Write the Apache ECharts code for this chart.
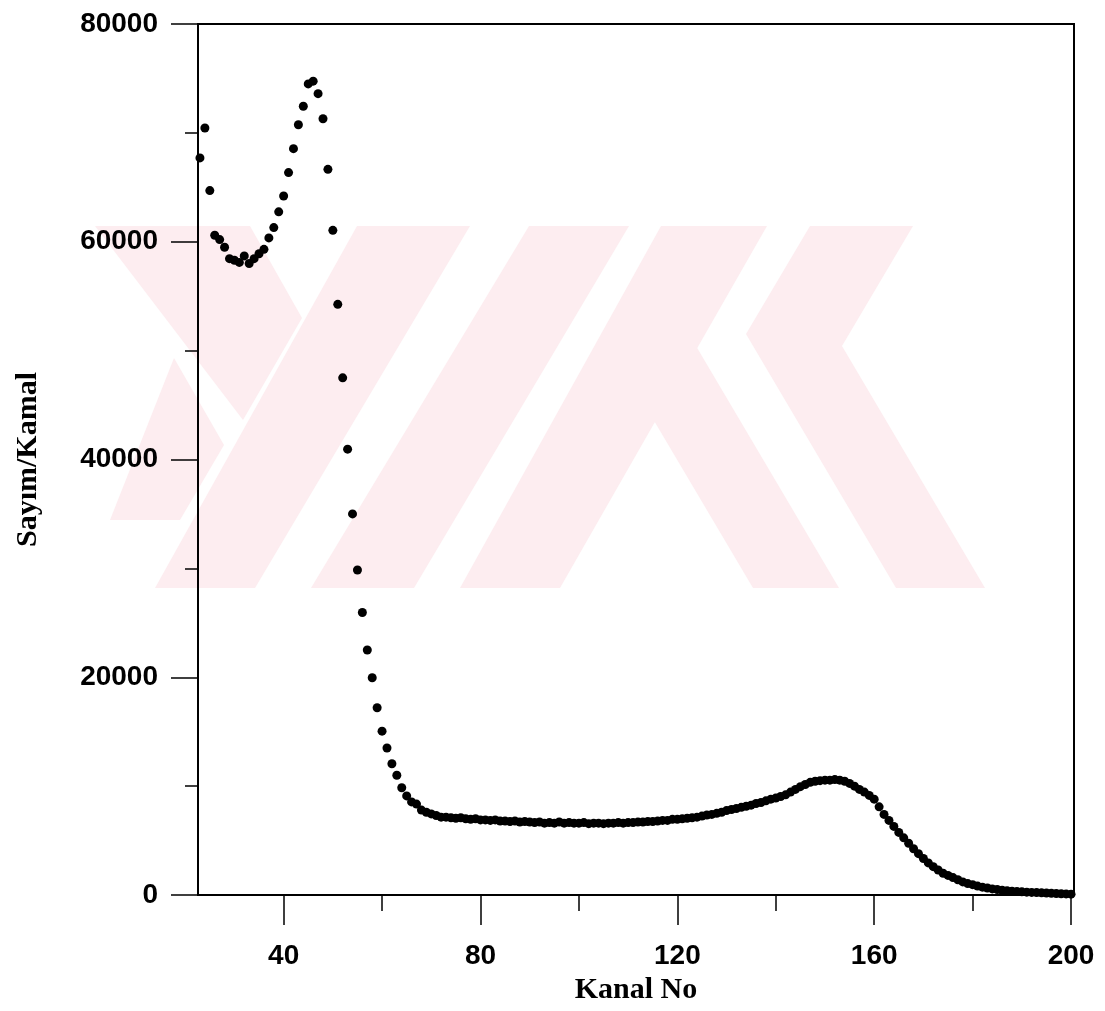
<!DOCTYPE html>
<html>
<head>
<meta charset="utf-8">
<script src="https://cdn.jsdelivr.net/npm/echarts@6/dist/echarts.min.js"></script>
<style>
html,body{margin:0;padding:0;background:#fff;}
#chart{width:1105px;height:1011px;}
</style>
</head>
<body>
<div id="chart"></div>
<script>
const channels = [23,24,25,26,27,28,29,30,31,32,33,34,35,36,37,38,39,40,41,42,43,44,45,46,47,48,49,50,
51,52,53,54,55,56,57,58,59,60,61,62,63,64,65,66,67,68,69,70,71,72,73,74,75,76,77,78,79,80,
81,82,83,84,85,86,87,88,89,90,91,92,93,94,95,96,97,98,99,100,101,102,103,104,105,106,107,108,109,110,
111,112,113,114,115,116,117,118,119,120,121,122,123,124,125,126,127,128,129,130,131,132,133,134,135,136,137,138,139,140,
141,142,143,144,145,146,147,148,149,150,151,152,153,154,155,156,157,158,159,160,161,162,163,164,165,166,167,168,169,170,
171,172,173,174,175,176,177,178,179,180,181,182,183,184,185,186,187,188,189,190,191,192,193,194,195,196,197,198,199,200];
const counts = [67700,70450,64700,60600,60200,59500,58450,58300,58100,58700,58000,58450,58900,59300,60350,61300,62750,64200,66350,68550,70750,72450,74500,74750,73600,71300,66650,61050,
54250,47500,40950,35000,29850,25950,22500,19950,17200,15050,13500,12050,11000,9850,9100,8550,8350,7800,7600,7450,7300,7150,7150,7100,7050,7100,7000,6950,7000,6900,
6900,6850,6900,6800,6800,6750,6800,6700,6750,6700,6650,6700,6600,6650,6600,6700,6600,6650,6600,6600,6650,6550,6600,6600,6550,6600,6600,6650,6600,6650,
6650,6700,6700,6750,6750,6800,6850,6850,6950,6950,7000,7050,7100,7150,7250,7350,7400,7500,7600,7750,7850,7950,8050,8150,8250,8400,8500,8650,8800,8900,
9050,9200,9450,9700,9950,10150,10350,10450,10500,10550,10550,10600,10550,10450,10250,10000,9700,9450,9150,8800,8100,7400,6850,6300,5750,5250,4750,4250,3800,3350,
2950,2600,2300,2000,1800,1600,1400,1200,1050,950,820,720,640,560,500,440,390,350,320,290,260,240,220,200,180,160,140,120,100,80];
const xMajorTicks = [40,80,120,160,200];
const xMinorTicks = [60,100,140,180];
const yMajorTicks = [0,20000,40000,60000,80000];
const yMinorTicks = [10000,30000,50000,70000];
const xTitle = 'Kanal No';
const yTitle = 'Sayım/Kamal';

const points = channels.map((c, i) => [c, counts[i]]);

const pink = '#fdedf0';
const wm = [
  [[95,226],[250,226],[302,318],[243,420]],
  [[174,358],[224,445],[180,520],[110,520]],
  [[357,226],[470,226],[255,588],[155,588]],
  [[529,226],[629,226],[414,588],[311,588]],
  [[661,226],[767,226],[560,588],[460,588]],
  [[653,419],[753,588],[839,588],[696,346]],
  [[810,226],[913,226],[842,346],[985,588],[896,588],[746,334]]
];

const chart = echarts.init(document.getElementById('chart'), null, {renderer:'canvas'});
const labelFont = {fontFamily:'Liberation Sans', fontWeight:'bold', fontSize:28, color:'#000'};
const nameFont = {fontFamily:'Liberation Serif', fontWeight:'bold', fontSize:30, color:'#000'};
const plain = v => String(Math.round(v));
chart.setOption({
  animation:false,
  backgroundColor:'#fff',
  graphic: wm.map(p => ({type:'polygon', z:-100, silent:true, shape:{points:p}, style:{fill:pink}})),
  grid:{left:198, right:31, top:24, bottom:116, show:true, borderColor:'#000', borderWidth:2, backgroundColor:'transparent'},
  xAxis:[{
    type:'value', min:22.6, max:200.6,
    axisLine:{show:true, onZero:false, lineStyle:{color:'#000', width:2}},
    axisTick:{show:true, customValues:xMajorTicks, length:30, lineStyle:{color:'#000', width:1.5}},
    axisLabel:{customValues:xMajorTicks, margin:47, formatter:plain, ...labelFont},
    splitLine:{show:false},
    name:xTitle, nameLocation:'middle', nameGap:78, nameTextStyle:nameFont
  },{
    type:'value', min:22.6, max:200.6, position:'bottom',
    axisLine:{show:false},
    axisTick:{show:true, customValues:xMinorTicks, length:16, lineStyle:{color:'#000', width:1.5}},
    axisLabel:{show:false},
    splitLine:{show:false}
  }],
  yAxis:[{
    type:'value', min:0, max:80000, interval:20000,
    axisLine:{show:true, onZero:false, lineStyle:{color:'#000', width:2}},
    axisTick:{show:true, customValues:yMajorTicks, length:27, lineStyle:{color:'#000', width:1.5}},
    axisLabel:{customValues:yMajorTicks, margin:40, formatter:plain, ...labelFont},
    splitLine:{show:false},
    name:yTitle, nameLocation:'middle', nameGap:155, nameRotate:90, nameTextStyle:nameFont
  },{
    type:'value', min:0, max:80000, position:'left',
    axisLine:{show:false},
    axisTick:{show:true, customValues:yMinorTicks, length:13, lineStyle:{color:'#000', width:1.5}},
    axisLabel:{show:false},
    splitLine:{show:false}
  }],
  series:[{
    type:'scatter', data:points, symbol:'circle', symbolSize:9,
    itemStyle:{color:'#000', opacity:1}, z:5
  }]
});
</script>
</body>
</html>
